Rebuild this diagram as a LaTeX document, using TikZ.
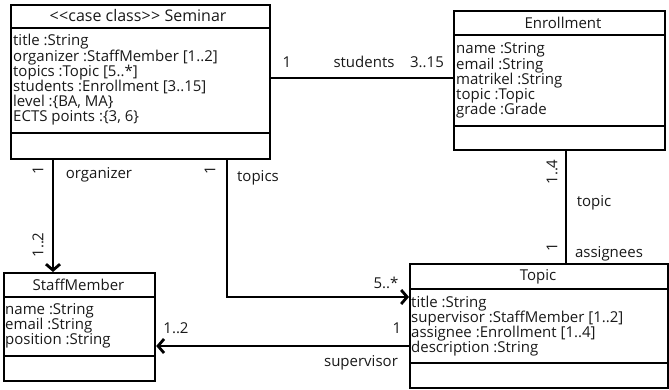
\documentclass[tikz,border=0pt]{standalone}
\usepackage{fontspec}
\setmainfont{Open Sans}
\usetikzlibrary{arrows.meta}
\begin{document}
\begin{tikzpicture}[x=1pt,y=-1pt,
  every node/.style={font=\fontsize{15}{15.2}\selectfont, inner sep=0pt, text=black!90},
  box/.style={draw, line width=2.2pt, anchor=north west},
  div/.style={line width=2.2pt},
  attrs/.style={align=left, anchor=west},
  assoc/.style={line width=2.8pt},
  arr/.style={assoc, -{Straight Barb[length=6pt,width=14pt]}},
  lbl/.style={},
  rlbl/.style={rotate=90}
]
\useasboundingbox (0,0) rectangle (669,390);

% Seminar
\node[box, minimum width=259pt, minimum height=154pt] (sem) at (10,4) {};
\draw[div] (10,28) -- (269,28) (10,133) -- (269,133);
\node[font=\fontsize{16}{16}\selectfont] (semT) at (138,16) {<\kern0.6pt<case class>\kern0.6pt> Seminar};
\node[attrs] (semA) at (13,80) {title :String\\organizer :StaffMember [1..2]\\topics :Topic [5..*]\\students :Enrollment [3..15]\\level :\{BA, MA\}\\ECTS points :\{3, 6\}};

% Enrollment
\node[box, minimum width=211pt, minimum height=139pt] (enr) at (453,10) {};
\draw[div] (453,35) -- (664,35) (453,126) -- (664,126);
\node (enrT) at (563,23) {Enrollment};
\node[attrs] (enrA) at (456,80.5) {name :String\\email :String\\matrikel :String\\topic :Topic\\grade :Grade};

% StaffMember
\node[box, minimum width=151pt, minimum height=108pt] (staff) at (3,272) {};
\draw[div] (3,297) -- (154,297) (3,356) -- (154,356);
\node (staffT) at (78.5,284.5) {StaffMember};
\node[attrs] (staffA) at (5,325.5) {name :String\\email :String\\position :String};

% Topic
\node[box, minimum width=258pt, minimum height=124pt] (topic) at (409,263) {};
\draw[div] (409,289) -- (667,289) (409,363) -- (667,363);
\node (topicT) at (538,277) {Topic};
\node[attrs] (topicA) at (411,326) {title :String\\supervisor :StaffMember [1..2]\\assignee :Enrollment [1..4]\\description :String};

% students
\draw[assoc] ([yshift=-74pt]sem.north east) -- ([yshift=-74pt]sem.north east -| enr.west);
\node[lbl] (l1) at (287,62) {1};
\node[lbl] (l2) at (364,62) {students};
\node[lbl] (l3) at (427,62) {3..15};

% organizer
\draw[arr] ([xshift=43pt]sem.south west) -- ([xshift=43pt]sem.south west |- staff.north);
\node[rlbl] (l4) at (38,170) {1};
\node[lbl] (l5) at (99,175) {organizer};
\node[rlbl] (l6) at (38,245) {1..2};

% topics
\draw[arr] ([xshift=217pt]sem.south west) |- ([yshift=-34pt]topic.north west);
\node[rlbl] (l7) at (210,170) {1};
\node[lbl] (l8) at (258,178) {topics};
\node[lbl] (l9) at (386,283) {5..*};

% supervisor
\draw[arr] ([yshift=-83pt]topic.north west) -- ([yshift=-83pt]topic.north west -| staff.east);
\node[lbl] (l10) at (176,328) {1..2};
\node[lbl] (l11) at (397,328) {1};
\node[lbl] (l12) at (361,363) {supervisor};

% topic / assignees
\draw[assoc] ([xshift=113pt]enr.south west) -- ([xshift=113pt]enr.south west |- topic.north);
\node[rlbl] (l13) at (552,172) {1..4};
\node[lbl] (l14) at (594,203) {topic};
\node[rlbl] (l15) at (552,247) {1};
\node[lbl] (l16) at (609,254) {assignees};
\end{tikzpicture}
\end{document}
